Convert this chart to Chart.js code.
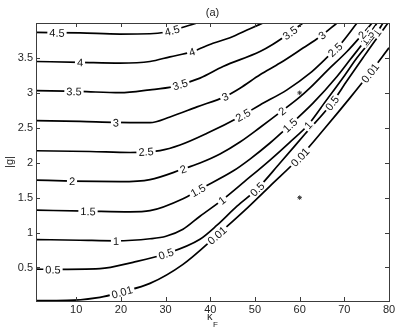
<!DOCTYPE html>
<html>
<head>
<meta charset="utf-8">
<script src="https://cdn.jsdelivr.net/npm/chart.js@4.4.1/dist/chart.umd.min.js"></script>
<style>
  html, body { margin: 0; padding: 0; background: #fff; }
</style>
</head>
<body>
<canvas id="contour" width="399" height="332"></canvas>
<script>
// contour levels and their label text
var levels = [0.01, 0.5, 1, 1.5, 2, 2.5, 3, 3.5, 4, 4.5];
var levelText = ['0.01', '0.5', '1', '1.5', '2', '2.5', '3', '3.5', '4', '4.5'];

// traced contour lines (kappa_F, |g|)
var x001 = [1, 7.94, 15.32, 20.25, 26.51, 33.90, 41.51, 47.77, 53.37, 60.08, 65.68, 71.27, 75.75, 80.0];
var y001 = [0.025, 0.028, 0.071, 0.150, 0.272, 0.545, 0.961, 1.320, 1.665, 2.081, 2.497, 2.928, 3.287, 3.645];

var x05 = [1, 4.80, 15.32, 22.71, 30.09, 37.70, 41.51, 45.98, 50.46, 55.61, 61.20, 67.24, 70.60, 74.18, 76.87, 79.78];
var y05 = [0.476, 0.473, 0.483, 0.574, 0.696, 0.904, 1.105, 1.378, 1.622, 1.995, 2.411, 2.856, 3.172, 3.502, 3.746, 4.0];

var x1 = [1, 10.85, 18.90, 26.51, 30.09, 33.90, 37.70, 42.63, 47.77, 53.37, 57.84, 61.87, 65.23, 69.70, 72.84, 75.75, 77.31, 78.66];
var y1 = [0.900, 0.890, 0.882, 0.911, 0.947, 1.047, 1.234, 1.464, 1.736, 2.038, 2.296, 2.540, 2.827, 3.215, 3.502, 3.732, 3.861, 4.0];

var x15 = [1, 12.64, 22.04, 26.51, 33.90, 37.70, 45.09, 48.89, 53.37, 57.84, 62.99, 68.36, 71.27, 75.08, 77.31];
var y15 = [1.320, 1.306, 1.296, 1.313, 1.485, 1.622, 1.880, 2.052, 2.282, 2.540, 2.852, 3.234, 3.473, 3.789, 4.0];

var x2 = [1, 9.06, 19.80, 26.51, 33.90, 37.70, 42.18, 46.65, 51.13, 56.05, 60.08, 62.32, 66.12, 70.60, 73.96, 76.20];
var y2 = [1.751, 1.736, 1.729, 1.758, 1.909, 1.995, 2.124, 2.296, 2.504, 2.741, 2.942, 3.071, 3.315, 3.592, 3.832, 4.0];

var x25 = [1, 13.08, 22.04, 28.75, 33.23, 39.27, 46.65, 51.13, 57.17, 62.32, 65.68, 69.03, 72.84];
var y25 = [2.171, 2.160, 2.146, 2.174, 2.253, 2.421, 2.659, 2.827, 3.043, 3.282, 3.480, 3.689, 4.0];

var x3 = [1, 10.85, 18.90, 26.51, 30.99, 37.03, 43.30, 46.65, 51.13, 55.61, 60.75, 64.56, 68.36];
var y3 = [2.602, 2.591, 2.576, 2.573, 2.655, 2.799, 2.946, 3.067, 3.258, 3.426, 3.641, 3.803, 4.0];

var x35 = [1, 10.85, 19.80, 26.51, 31.66, 37.70, 42.85, 51.13, 54.04, 57.84, 60.75];
var y35 = [3.033, 3.021, 3.002, 3.043, 3.090, 3.211, 3.377, 3.592, 3.696, 3.861, 4.0];

var x4 = [1, 10.85, 19.80, 26.51, 30.99, 35.91, 40.61, 44.42, 48.89, 51.80];
var y4 = [3.449, 3.437, 3.426, 3.449, 3.516, 3.588, 3.710, 3.789, 3.918, 4.0];

var x45 = [1, 10.85, 19.80, 26.51, 29.87, 33.23, 37.03];
var y45 = [3.865, 3.858, 3.842, 3.846, 3.868, 3.925, 4.0];

// where the inline labels sit along each line (kappa_F)
var lab001 = [20.25, 41.51, 60.08, 75.75];
var lab05 = [4.80, 30.09, 50.46, 67.24];
var lab1 = [18.90, 42.63, 61.87, 77.31];
var lab15 = [12.64, 37.25, 57.84, 75.08];
var lab2 = [9.06, 33.90, 56.05, 73.96];
var lab25 = [25.62, 47.33, 67.91];
var lab3 = [18.90, 43.30, 65.0];
var lab35 = [9.50, 33.23, 57.84];
var lab4 = [10.85, 35.91];
var lab45 = [5.70, 31.44];

// the two marked points
var starX = [60, 60];
var starY = [3, 1.5];

var xTicks = [10, 20, 30, 40, 50, 60, 70, 80];
var yTicks = [0.5, 1, 1.5, 2, 2.5, 3, 3.5];

var curveX = [x001, x05, x1, x15, x2, x25, x3, x35, x4, x45];
var curveY = [y001, y05, y1, y15, y2, y25, y3, y35, y4, y45];
var labelX = [lab001, lab05, lab1, lab15, lab2, lab25, lab3, lab35, lab4, lab45];

var FONT = '"Liberation Sans", Arial, Helvetica, sans-serif';

var datasets = [];
for (var i = 0; i < levels.length; i++) {
  var pts = [];
  for (var j = 0; j < curveX[i].length; j++) {
    pts.push({ x: curveX[i][j], y: curveY[i][j] });
  }
  datasets.push({
    label: levelText[i],
    data: pts,
    borderColor: '#000',
    borderWidth: 1.7,
    pointRadius: 0,
    fill: false,
    cubicInterpolationMode: 'monotone'
  });
}
datasets.push({
  label: 'marks',
  data: starX.map(function(x, k) { return { x: x, y: starY[k] }; }),
  showLine: false,
  pointStyle: 'star',
  pointRadius: 2.3,
  borderColor: '#333',
  borderWidth: 0.9
});

// y on the drawn polyline at pixel px
function yAt(pts, px) {
  var n = pts.length;
  for (var k = 0; k < n - 1; k++) {
    if (px >= pts[k].x && px <= pts[k + 1].x) {
      var t = (px - pts[k].x) / (pts[k + 1].x - pts[k].x);
      return pts[k].y + t * (pts[k + 1].y - pts[k].y);
    }
  }
  var a = px < pts[0].x ? pts[0] : pts[n - 2];
  var b = px < pts[0].x ? pts[1] : pts[n - 1];
  return a.y + (px - a.x) * (b.y - a.y) / (b.x - a.x);
}

var inlineLabels = {
  id: 'inlineLabels',
  afterDatasetsDraw: function(chart) {
    var ctx = chart.ctx;
    var xs = chart.scales.x;
    ctx.save();
    ctx.font = '11px ' + FONT;
    ctx.textAlign = 'center';
    ctx.textBaseline = 'middle';
    for (var i = 0; i < labelX.length; i++) {
      var pts = chart.getDatasetMeta(i).data;
      for (var m = 0; m < labelX[i].length; m++) {
        var px = xs.getPixelForValue(labelX[i][m]);
        var py = yAt(pts, px);
        var ang = Math.atan2(yAt(pts, px + 5) - yAt(pts, px - 5), 10);
        var w = ctx.measureText(levelText[i]).width;
        ctx.save();
        ctx.translate(px, py);
        ctx.rotate(ang);
        ctx.fillStyle = '#fff';
        ctx.fillRect(-w / 2 - 2, -5, w + 4, 10);
        ctx.fillStyle = '#111';
        ctx.fillText(levelText[i], 0, 1);
        ctx.restore();
      }
    }
    ctx.restore();
  }
};

// matlab style box, inward ticks, titles
var frame = {
  id: 'frame',
  afterDraw: function(chart) {
    var ctx = chart.ctx, a = chart.chartArea;
    var xs = chart.scales.x, ys = chart.scales.y;
    ctx.save();
    ctx.strokeStyle = '#3c3c3c';
    ctx.lineWidth = 1;
    ctx.strokeRect(a.left + 0.5, a.top + 0.5, a.right - a.left, a.bottom - a.top);
    ctx.beginPath();
    xTicks.forEach(function(v) {
      var p = Math.round(xs.getPixelForValue(v)) + 0.5;
      ctx.moveTo(p, a.bottom); ctx.lineTo(p, a.bottom - 4);
      ctx.moveTo(p, a.top); ctx.lineTo(p, a.top + 4);
    });
    yTicks.forEach(function(v) {
      var p = Math.round(ys.getPixelForValue(v)) + 0.5;
      ctx.moveTo(a.left, p); ctx.lineTo(a.left + 4, p);
      ctx.moveTo(a.right, p); ctx.lineTo(a.right - 4, p);
    });
    ctx.stroke();

    ctx.fillStyle = '#222';
    ctx.font = '11px ' + FONT;
    ctx.textAlign = 'center';
    ctx.textBaseline = 'alphabetic';
    ctx.fillText('(a)', (a.left + a.right) / 2, 16);

    ctx.textAlign = 'left';
    ctx.fillText('κ', 207, 320);
    ctx.font = '8px ' + FONT;
    ctx.fillText('F', 213, 327);

    ctx.font = '11px ' + FONT;
    ctx.translate(13, 162);
    ctx.rotate(-Math.PI / 2);
    ctx.textAlign = 'center';
    ctx.fillText('|g|', 0, 0);
    ctx.restore();
  }
};

var chart = new Chart(document.getElementById('contour'), {
  type: 'line',
  data: { datasets: datasets },
  options: {
    responsive: false,
    animation: false,
    events: [],
    layout: { padding: { top: 23, right: 10, left: 0, bottom: 0 } },
    plugins: { legend: { display: false }, tooltip: { enabled: false }, title: { display: false } },
    scales: {
      x: {
        type: 'linear',
        min: 1,
        max: 80,
        afterBuildTicks: function(s) { s.ticks = xTicks.map(function(v) { return { value: v }; }); },
        afterFit: function(s) { s.height = 31; },
        grid: { display: false, drawTicks: false },
        border: { display: false },
        ticks: {
          autoSkip: false, maxRotation: 0, padding: 2, color: '#262626',
          font: { size: 11, family: FONT },
          callback: function(v) { return String(v); }
        }
      },
      y: {
        type: 'linear',
        min: 0.02,
        max: 4,
        afterBuildTicks: function(s) { s.ticks = yTicks.map(function(v) { return { value: v }; }); },
        afterFit: function(s) { s.width = 36; },
        grid: { display: false, drawTicks: false },
        border: { display: false },
        ticks: {
          autoSkip: false, padding: 3, color: '#262626',
          font: { size: 11, family: FONT },
          callback: function(v) { return String(v); }
        }
      }
    }
  },
  plugins: [inlineLabels, frame]
});
</script>
</body>
</html>
